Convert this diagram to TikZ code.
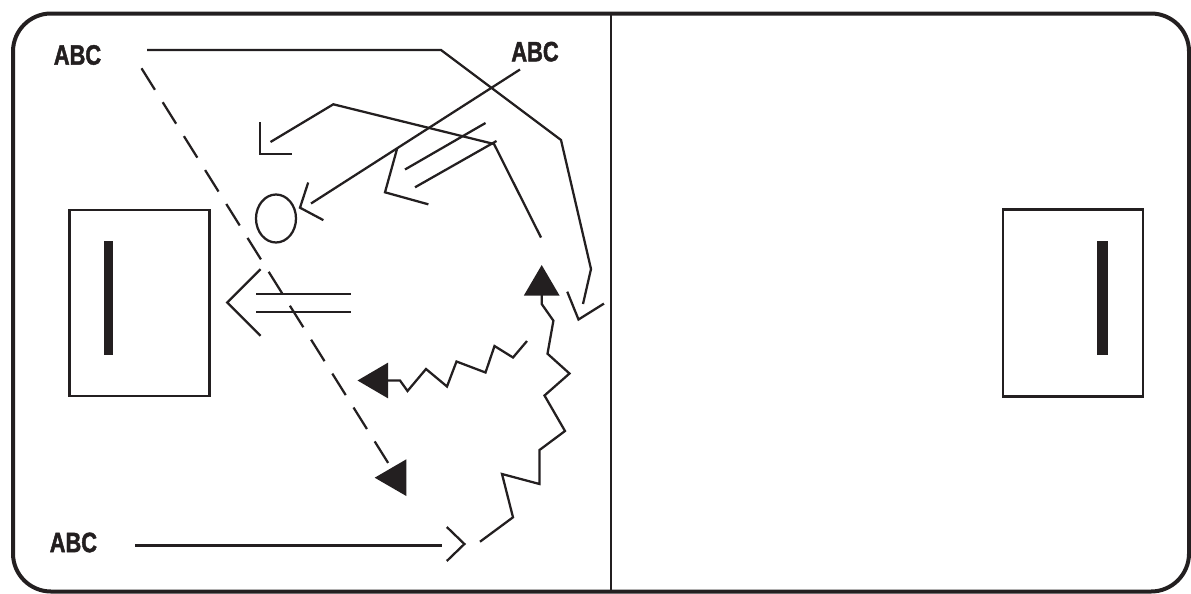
\documentclass[tikz,border=0pt]{standalone}
\usepackage{fontspec}
\setmainfont{Liberation Sans}
\newfontfamily\abcfont{Liberation Sans}[FakeStretch=0.78,FakeBold=1.6]
\usepackage{xcolor}
\usetikzlibrary{arrows.meta}
\definecolor{ink}{RGB}{35,31,32}
\tikzset{
    wire/.style={line width=1.7pt, color=ink},
    box/.style={line width=2.2pt, color=ink},
    abc/.style={font=\abcfont\bfseries\fontsize{21}{21}\selectfont, text=ink, inner sep=0pt},
    tri/.style={wire, -{Triangle[length=23pt,width=26.5pt]}},
    pics/vtip/.style n args={2}{code={\draw[wire] (180-#2:#1) -- (0,0) -- (180+#2:#1);}}}

\begin{document}
\begin{tikzpicture}[x=0.75pt,y=-0.75pt]
\useasboundingbox (0,0) rectangle (1191,593);

\draw[line width=3pt, color=ink, rounded corners=28.5pt] (13,13.5) rectangle (1189,591.5);
\draw[line width=2pt, color=ink] (611,13.5) -- (611,591.5);

\draw[box] (69.5,210) rectangle (209.5,396);
\fill[ink] (103.8,240.5) rectangle (113.3,355);
\draw[box] (1003,209.5) rectangle (1143,396.5);
\fill[ink] (1097.3,240.5) rectangle (1107.7,355);

\coordinate (p1) at (147,50);
\coordinate (p2) at (441,50);
\coordinate (p3) at (561,140);
\coordinate (p4) at (591,269);
\coordinate (e1) at (583,304);
\coordinate (t1) at (578.5,319.5);
\draw[wire] (p1) -- (p2) -- (p3) -- (p4) -- (e1);
\pic[rotate=-108] at (t1) {vtip={30}{40}};

\coordinate (q1) at (520,69.5);
\coordinate (e2) at (311,203.5);
\coordinate (t2) at (300,207.7);
\draw[wire] (q1) -- (e2);
\pic[rotate=-158] at (t2) {vtip={26.5}{50}};

\coordinate (eye) at (276,218.5);
\draw[wire] (eye) ellipse [x radius=20, y radius=24];

\coordinate (r1) at (541,237.5);
\coordinate (r2) at (494,144);
\coordinate (r3) at (333.3,104.3);
\coordinate (e3) at (270.5,142);
\coordinate (t3) at (260,154);
\draw[wire] (r1) -- (r2) -- (r3) -- (e3);
\pic[rotate=-135] at (t3) {vtip={32}{45}};

\coordinate (u1) at (485.5,123);
\coordinate (u2) at (405,169.5);
\coordinate (u3) at (496.5,141);
\coordinate (u4) at (415,187.3);
\coordinate (t4) at (385,192.3);
\draw[wire] (u1) -- (u2);
\draw[wire] (u3) -- (u4);
\pic[rotate=-150.5] at (t4) {vtip={45}{45}};

\coordinate (w1) at (350.7,294.3);
\coordinate (w2) at (256,294.3);
\coordinate (w3) at (350.7,311.7);
\coordinate (w4) at (256,311.7);
\coordinate (t5) at (227.3,302.5);
\draw[wire] (w1) -- (w2);
\draw[wire] (w3) -- (w4);
\pic[rotate=180] at (t5) {vtip={47}{45}};

\coordinate (b1) at (135,545.5);
\coordinate (e6) at (442,545.5);
\coordinate (t6) at (464.4,544);
\draw[wire] (b1) -- (e6);
\pic at (t6) {vtip={24.5}{44}};

\coordinate (d1) at (141.5,68.3);
\coordinate (d2) at (390.5,466.7);
\draw[wire, dash pattern=on 19pt off 11pt] (d1) -- (d2);
\fill[ink] (374.7,477.7) -- (406.3,459.3) -- (406.3,496) -- cycle;

\draw[tri] (527,341) -- (513,357.5) -- (494.5,346) -- (485.5,372.5) -- (456.5,361.5)
  -- (447,386.5) -- (426,369) -- (407.5,391) -- (400,380.5) -- (357.5,380.5);
\draw[tri] (480,541.7) -- (513,517.3) -- (502,474) -- (539.5,484) -- (539.5,450)
  -- (565,431) -- (544.5,395.5) -- (569.5,373.5) -- (547.5,353.7) -- (553.4,320.7)
  -- (541.7,304) -- (541.7,265);

\node[abc] (abcTL) at (77.5,55) {ABC};
\node[abc] (abcTR) at (535,51.7) {ABC};
\node[abc] (abcB) at (73.4,542.5) {ABC};
\end{tikzpicture}
\end{document}
